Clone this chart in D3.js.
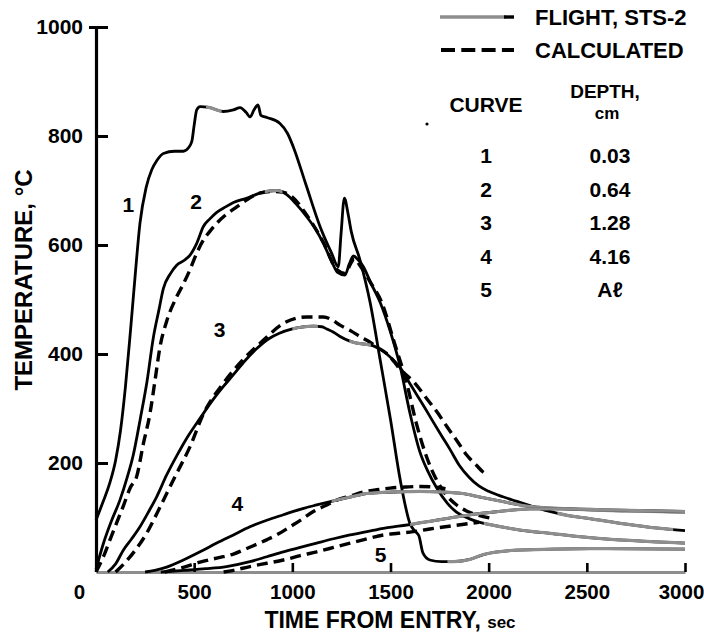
<!DOCTYPE html>
<html><head><meta charset="utf-8">
<script src="https://cdn.jsdelivr.net/npm/d3@7"></script>
<style>
body{margin:0;background:#fff}
svg{display:block}
text{font-family:"Liberation Sans",Arial,Helvetica,sans-serif;font-weight:bold;fill:#000}
</style>
</head><body>
<svg id="chart" width="704" height="639"></svg>
<script>
// ---------- data ----------
const xTicks = [0, 500, 1000, 1500, 2000, 2500, 3000];
const yTicks = [200, 400, 600, 800, 1000];
const curveIds = ["1", "2", "3", "4", "5"];
const depths = ["0.03", "0.64", "1.28", "4.16", "Aℓ"];

// Flight, STS-2 measured temperatures [time s, temp °C]
const flight1 = [[0,95],[35,128],[70,163],[100,205],[125,260],[150,340],[175,440],[199,542],[224,640],[255,705],[284,738],[310,755],[343,768],[400,772],[445,772],[470,778],[488,790],[500,820],[513,848],[530,854],[580,852],[648,845],[700,848],[734,852],[765,843],[785,835],[805,848],[825,857],[840,838],[870,834],[937,823],[975,805],[1005,780],[1070,710],[1141,634],[1200,585],[1234,560],[1248,620],[1265,686],[1285,655],[1300,625],[1345,572],[1396,495],[1447,390],[1500,280],[1549,170],[1600,88],[1630,73],[1645,66],[1665,35],[1700,22],[1760,19],[1820,19],[1904,23],[1973,32],[2143,40],[2515,43],[3000,42]];
const flight2 = [[0,5],[40,55],[80,95],[120,130],[160,175],[190,215],[225,280],[260,350],[292,430],[320,480],[343,520],[380,548],[411,563],[450,572],[480,582],[513,603],[547,634],[580,648],[615,660],[660,670],[700,678],[770,686],[850,697],[920,700],[970,693],[1020,675],[1073,652],[1120,628],[1158,603],[1200,570],[1230,550],[1268,545],[1290,565],[1311,580],[1330,575],[1362,560],[1400,530],[1447,495],[1500,440],[1549,377],[1600,290],[1650,220],[1690,185],[1734,155],[1790,126],[1836,110],[1900,98],[1955,91],[2007,87],[2160,77],[2313,71],[2515,63],[3000,53]];
const flight3 = [[60,0],[100,15],[139,40],[180,60],[224,83],[270,112],[309,138],[360,178],[411,213],[470,250],[530,282],[600,318],[648,340],[700,362],[760,388],[819,410],[880,428],[934,438],[1000,446],[1060,450],[1107,451],[1150,450],[1175,446],[1210,440],[1243,432],[1290,424],[1328,420],[1370,418],[1413,415],[1450,408],[1481,400],[1549,375],[1600,345],[1634,325],[1680,298],[1718,275],[1760,250],[1803,225],[1850,196],[1900,174],[1950,158],[2000,148],[2072,138],[2140,130],[2210,122],[2300,112],[2400,104],[2515,98],[2700,88],[2850,81],[3000,76]];
const flight4 = [[250,0],[300,3],[360,9],[445,22],[530,37],[615,53],[700,68],[784,83],[870,95],[954,105],[1040,115],[1124,123],[1226,132],[1300,138],[1379,144],[1460,146],[1549,147],[1650,148],[1750,147],[1869,144],[1950,138],[2075,129],[2160,123],[2245,119],[2400,116],[2516,114],[2700,112],[3000,110]];
const flight5 = [[330,0],[450,3],[560,6],[665,10],[784,19],[870,28],[954,37],[1040,45],[1124,53],[1210,61],[1294,68],[1380,74],[1464,80],[1540,84],[1616,88],[1700,93],[1800,99],[1905,105],[2050,111],[2210,116],[2400,116],[2600,114],[3000,111]];

// Calculated temperatures [time s, temp °C]
const calc2 = [[0,0],[40,30],[70,58],[105,90],[140,122],[175,155],[207,175],[241,235],[275,291],[300,350],[326,413],[360,460],[411,505],[440,525],[479,555],[513,585],[547,609],[580,625],[615,640],[660,655],[717,670],[768,683],[835,695],[900,698],[950,697],[1000,688],[1073,655],[1158,605],[1226,555],[1268,548],[1300,568],[1315,575],[1345,562],[1400,530],[1455,495],[1520,420],[1583,346],[1630,275],[1685,210],[1736,168],[1787,140],[1840,122],[1887,112],[1950,104],[2007,99]];
const calc3 = [[100,0],[150,18],[200,40],[258,71],[300,100],[360,144],[411,181],[479,230],[547,290],[648,346],[750,390],[852,425],[954,456],[1073,468],[1158,468],[1200,463],[1243,453],[1300,442],[1345,432],[1390,423],[1430,413],[1490,398],[1549,372],[1620,348],[1685,318],[1740,292],[1787,267],[1840,240],[1887,215],[1940,195],[1970,184],[2000,178]];
const calc4 = [[350,0],[430,7],[530,18],[620,26],[700,33],[780,45],[869,59],[930,70],[988,83],[1050,97],[1107,111],[1170,122],[1226,132],[1300,140],[1362,147],[1430,151],[1498,154],[1580,156],[1650,157],[1720,156],[1780,153]];
const calc5 = [[650,0],[700,3],[784,10],[870,16],[954,22],[1040,30],[1124,37],[1210,45],[1294,53],[1380,61],[1464,68],[1540,71],[1616,74],[1700,79],[1800,84],[1905,89],[1950,91]];

// curve-number labels [time s, temp °C]
const labelPos = [[165, 675], [510, 680], [630, 445], [720, 125], [1450, 32]];

// ---------- drawing ----------
const svg = d3.select("#chart");
const x = d3.scaleLinear().domain([0, 3000]).range([96, 685]);
const y = d3.scaleLinear().domain([0, 1000]).range([572, 27]);
const GRAY = "#8e8e8e";

const line = d3.line().x(d => x(d[0])).y(d => y(d[1])).curve(d3.curveMonotoneX);

// style: time ranges where the flight trace prints grey
const flights = [
  {data: flight1, gray: [[560, 640], [1790, 3000]]},
  {data: flight2, gray: [[860, 950], [1975, 3000]]},
  {data: flight3, gray: [[1000, 1130], [1290, 1400], [2350, 2940]]},
  {data: flight4, gray: [[1200, 3000]]},
  {data: flight5, gray: [[1600, 3000]]}
];
const calcs = [calc2, calc3, calc4, calc5];

// x axis (grey baseline, black inward ticks)
const gx = svg.append("g").attr("transform", "translate(0,572)")
  .call(d3.axisBottom(x).tickValues(xTicks).tickSize(-9).tickSizeOuter(0).tickPadding(12)
        .tickFormat(d3.format("d")));
gx.select(".domain").attr("stroke", GRAY).attr("stroke-width", 3.2);
gx.selectAll(".tick line").attr("stroke", "#000").attr("stroke-width", 2.6)
  .filter(d => d === 0).remove();
gx.selectAll(".tick text").style("font-size", "20.5px").attr("fill", "#000")
  .attr("x", d => d === 0 ? -17 : (d === 3000 ? -4 : 0));

// y axis
const gy = svg.append("g").attr("transform", "translate(96,0)")
  .call(d3.axisLeft(y).tickValues(yTicks).tickSize(-12).tickSizeOuter(0).tickPadding(13)
        .tickFormat(d3.format("d")));
gy.select(".domain").attr("stroke", "#000").attr("stroke-width", 3.2)
  .attr("d", `M0.5,${y(0)}V${y(1000)}`);
gy.selectAll(".tick line").attr("stroke", "#000").attr("stroke-width", 3);
gy.selectAll(".tick text").style("font-size", "21px").attr("fill", "#000");
gy.selectAll(".tick").filter(d => d === 1000).append("line")
  .attr("x1", -7).attr("x2", 0).attr("stroke", "#000").attr("stroke-width", 3);

// calculated (dashed)
svg.append("g").selectAll("path").data(calcs).join("path")
  .attr("d", line).attr("fill", "none").attr("stroke", "#000")
  .attr("stroke-width", 3.4).attr("stroke-dasharray", "11,6");

// flight (solid, partially grey)
const defs = svg.append("defs");
flights.forEach((f, i) => {
  svg.append("path").attr("d", line(f.data)).attr("fill", "none")
    .attr("stroke", "#000").attr("stroke-width", 2.8).attr("stroke-linejoin", "round");
  const cp = defs.append("clipPath").attr("id", "g" + i);
  f.gray.forEach(r => cp.append("rect").attr("x", x(r[0])).attr("y", 0)
    .attr("width", x(r[1]) - x(r[0])).attr("height", 639));
  svg.append("path").attr("d", line(f.data)).attr("fill", "none")
    .attr("clip-path", `url(#g${i})`)
    .attr("stroke", GRAY).attr("stroke-width", 3.2);
});

// curve number labels
svg.append("g").selectAll("text").data(labelPos).join("text")
  .attr("x", d => x(d[0])).attr("y", d => y(d[1])).attr("dy", "0.36em")
  .attr("text-anchor", "middle").style("font-size", "21px").text((d, i) => curveIds[i]);

// axis titles
const xt = svg.append("text").attr("x", 390).attr("y", 628).attr("text-anchor", "middle")
  .style("font-size", "23px");
xt.append("tspan").text("TIME FROM ENTRY, ");
xt.append("tspan").style("font-size", "17px").text("sec");
svg.append("text").attr("transform", "translate(32,280) rotate(-90)")
  .attr("text-anchor", "middle").style("font-size", "24px").text("TEMPERATURE, °C");

// legend
const lg = svg.append("g");
const legendLine = d3.line();
lg.append("path").attr("d", legendLine([[440, 17], [506, 17]])).attr("stroke", GRAY)
  .attr("stroke-width", 3.4).attr("fill", "none");
lg.append("path").attr("d", legendLine([[504, 17], [514, 17]])).attr("stroke", "#000")
  .attr("stroke-width", 3.4).attr("fill", "none");
lg.append("path").attr("d", legendLine([[441, 50], [514, 50]])).attr("stroke", "#000")
  .attr("stroke-width", 4).attr("stroke-dasharray", "14,6.3").attr("fill", "none");
lg.append("text").attr("x", 535).attr("y", 17).attr("dy", "0.36em").style("font-size", "22px").text("FLIGHT, STS-2");
lg.append("text").attr("x", 535).attr("y", 50).attr("dy", "0.36em").style("font-size", "22px").text("CALCULATED");
lg.append("text").attr("x", 486).attr("y", 104).attr("dy", "0.36em").attr("text-anchor", "middle").style("font-size", "21px").text("CURVE");
lg.append("text").attr("x", 605).attr("y", 91).attr("dy", "0.36em").attr("text-anchor", "middle").style("font-size", "19px").text("DEPTH,");
lg.append("text").attr("x", 607).attr("y", 113).attr("dy", "0.36em").attr("text-anchor", "middle").style("font-size", "17px").text("cm");
const rowY = [155, 189, 222, 256, 289];
lg.selectAll("text.cid").data(curveIds).join("text").attr("class", "cid")
  .attr("x", 486).attr("y", (d, i) => rowY[i]).attr("dy", "0.36em").attr("text-anchor", "middle")
  .style("font-size", "21px").text(d => d);
lg.selectAll("text.dep").data(depths).join("text").attr("class", "dep")
  .attr("x", 610).attr("y", (d, i) => rowY[i]).attr("dy", "0.36em").attr("text-anchor", "middle")
  .style("font-size", "21px").text(d => d);
// stray mark from the original print
lg.append("circle").attr("cx", 427).attr("cy", 124).attr("r", 1.6).attr("fill", "#000");
</script>
</body></html>
